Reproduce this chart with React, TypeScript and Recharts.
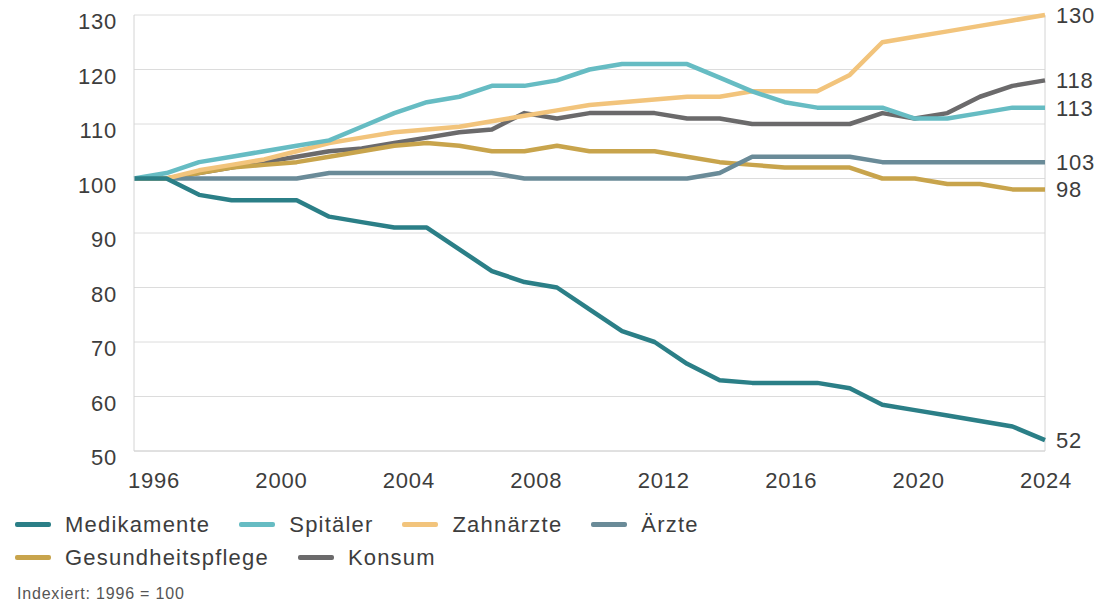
import { CartesianGrid, Line, LineChart, ReferenceLine, XAxis, YAxis } from "recharts";

const years = [
  1996, 1997, 1998, 1999, 2000, 2001, 2002, 2003, 2004, 2005, 2006, 2007, 2008, 2009, 2010,
  2011, 2012, 2013, 2014, 2015, 2016, 2017, 2018, 2019, 2020, 2021, 2022, 2023, 2024
];

const medikamente = [
  100, 100, 97, 96, 96, 96, 93, 92, 91, 91, 87, 83, 81, 80, 76, 72, 70, 66, 63, 62.5, 62.5, 62.5,
  61.5, 58.5, 57.5, 56.5, 55.5, 54.5, 52
];
const spitaeler = [
  100, 101, 103, 104, 105, 106, 107, 109.5, 112, 114, 115, 117, 117, 118, 120, 121, 121, 121, 118.5,
  116, 114, 113, 113, 113, 111, 111, 112, 113, 113
];
const zahnaerzte = [
  100, 100, 101.5, 102.5, 103.5, 105, 106.5, 107.5, 108.5, 109, 109.5, 110.5, 111.5, 112.5, 113.5,
  114, 114.5, 115, 115, 116, 116, 116, 119, 125, 126, 127, 128, 129, 130
];
const aerzte = [
  100, 100, 100, 100, 100, 100, 101, 101, 101, 101, 101, 101, 100, 100, 100, 100, 100, 100, 101,
  104, 104, 104, 104, 103, 103, 103, 103, 103, 103
];
const gesundheitspflege = [
  100, 100, 101, 102, 102.5, 103, 104, 105, 106, 106.5, 106, 105, 105, 106, 105, 105, 105, 104, 103,
  102.5, 102, 102, 102, 100, 100, 99, 99, 98, 98
];
const konsum = [
  100, 100, 101, 102, 103, 104, 105, 105.5, 106.5, 107.5, 108.5, 109, 112, 111, 112, 112, 112, 111,
  111, 110, 110, 110, 110, 112, 111, 112, 115, 117, 118
];

const xTicks = [1996, 2000, 2004, 2008, 2012, 2016, 2020, 2024];
const yTicks = [50, 60, 70, 80, 90, 100, 110, 120, 130];

const series = [
  { key: "medikamente", name: "Medikamente", color: "#2b7f87", values: medikamente },
  { key: "spitaeler", name: "Spitäler", color: "#66bcc3", values: spitaeler },
  { key: "zahnaerzte", name: "Zahnärzte", color: "#f2c47c", values: zahnaerzte },
  { key: "aerzte", name: "Ärzte", color: "#6a8b98", values: aerzte },
  { key: "gesundheitspflege", name: "Gesundheitspflege", color: "#c8a44c", values: gesundheitspflege },
  { key: "konsum", name: "Konsum", color: "#6b6a6b", values: konsum }
];

const legendRows = [
  ["medikamente", "spitaeler", "zahnaerzte", "aerzte"],
  ["gesundheitspflege", "konsum"]
];

const data = years.map((year, i) => {
  const row: Record<string, number> = { year };
  for (const s of series) row[s.key] = s.values[i];
  return row;
});

const font = "'Liberation Sans', Arial, Helvetica, sans-serif";
const textColor = "#3d3d3d";

function YTick({ x, y, payload }: any) {
  return (
    <text x={x - 9} y={y} dy={14} textAnchor="end" fontFamily={font} fontSize={22} fill={textColor} letterSpacing={0.8}>
      {payload.value}
    </text>
  );
}

function XTick({ x, y, payload, index }: any) {
  // labels drift a little right of their tick at the start of the axis
  const shift = 20 - index * 2.7;
  return (
    <text x={x + shift} y={y} dy={29} textAnchor="middle" fontFamily={font} fontSize={22} fill={textColor} letterSpacing={0.8}>
      {payload.value}
    </text>
  );
}

function endLabel(props: any) {
  const { x, y, index, value } = props;
  if (index !== years.length - 1) return null;
  return (
    <text x={x + 11} y={y} dy={8} fontFamily={font} fontSize={22} fill={textColor} letterSpacing={0.8}>
      {Math.round(value)}
    </text>
  );
}

export default function App() {
  const drawOrder = [...series].reverse();

  return (
    <div style={{ position: "absolute", left: 0, top: 0, width: 1102, height: 607, background: "#fff" }}>
      <LineChart width={1102} height={500} data={data} margin={{ top: 15, right: 57, bottom: 0, left: 0 }}>
        <CartesianGrid stroke="#dcdcdc" vertical={false} />
        <XAxis
          dataKey="year"
          type="number"
          domain={[1996, 2024]}
          ticks={xTicks}
          tick={<XTick />}
          tickLine={false}
          axisLine={{ stroke: "#d4d4d4" }}
          height={49}
        />
        <YAxis
          domain={[50, 130]}
          ticks={yTicks}
          tick={<YTick />}
          tickLine={false}
          axisLine={{ stroke: "#d4d4d4" }}
          width={134}
        />
        <ReferenceLine x={2024} stroke="#d4d4d4" />
        {drawOrder.map((s) => (
          <Line
            key={s.key}
            dataKey={s.key}
            name={s.name}
            stroke={s.color}
            strokeWidth={4.5}
            strokeLinejoin="round"
            dot={false}
            type="linear"
            label={endLabel}
            isAnimationActive={false}
          />
        ))}
      </LineChart>
      <div style={{ position: "absolute", left: 15, top: 508, fontFamily: font, color: textColor }}>
        {legendRows.map((row, r) => (
          <div key={r} style={{ display: "flex", alignItems: "center", height: 33 }}>
            {row.map((key) => {
              const s = series.find((item) => item.key === key)!;
              return (
                <div key={key} style={{ display: "flex", alignItems: "center", marginRight: 29 }}>
                  <span style={{ width: 36, height: 5, borderRadius: 2, background: s.color, marginRight: 14 }} />
                  <span style={{ fontSize: 22, letterSpacing: 1.2 }}>{s.name}</span>
                </div>
              );
            })}
          </div>
        ))}
      </div>
      <div style={{ position: "absolute", left: 17, top: 585, fontFamily: font, fontSize: 16, letterSpacing: 0.8, color: "#555" }}>
        Indexiert: 1996 = 100
      </div>
    </div>
  );
}
